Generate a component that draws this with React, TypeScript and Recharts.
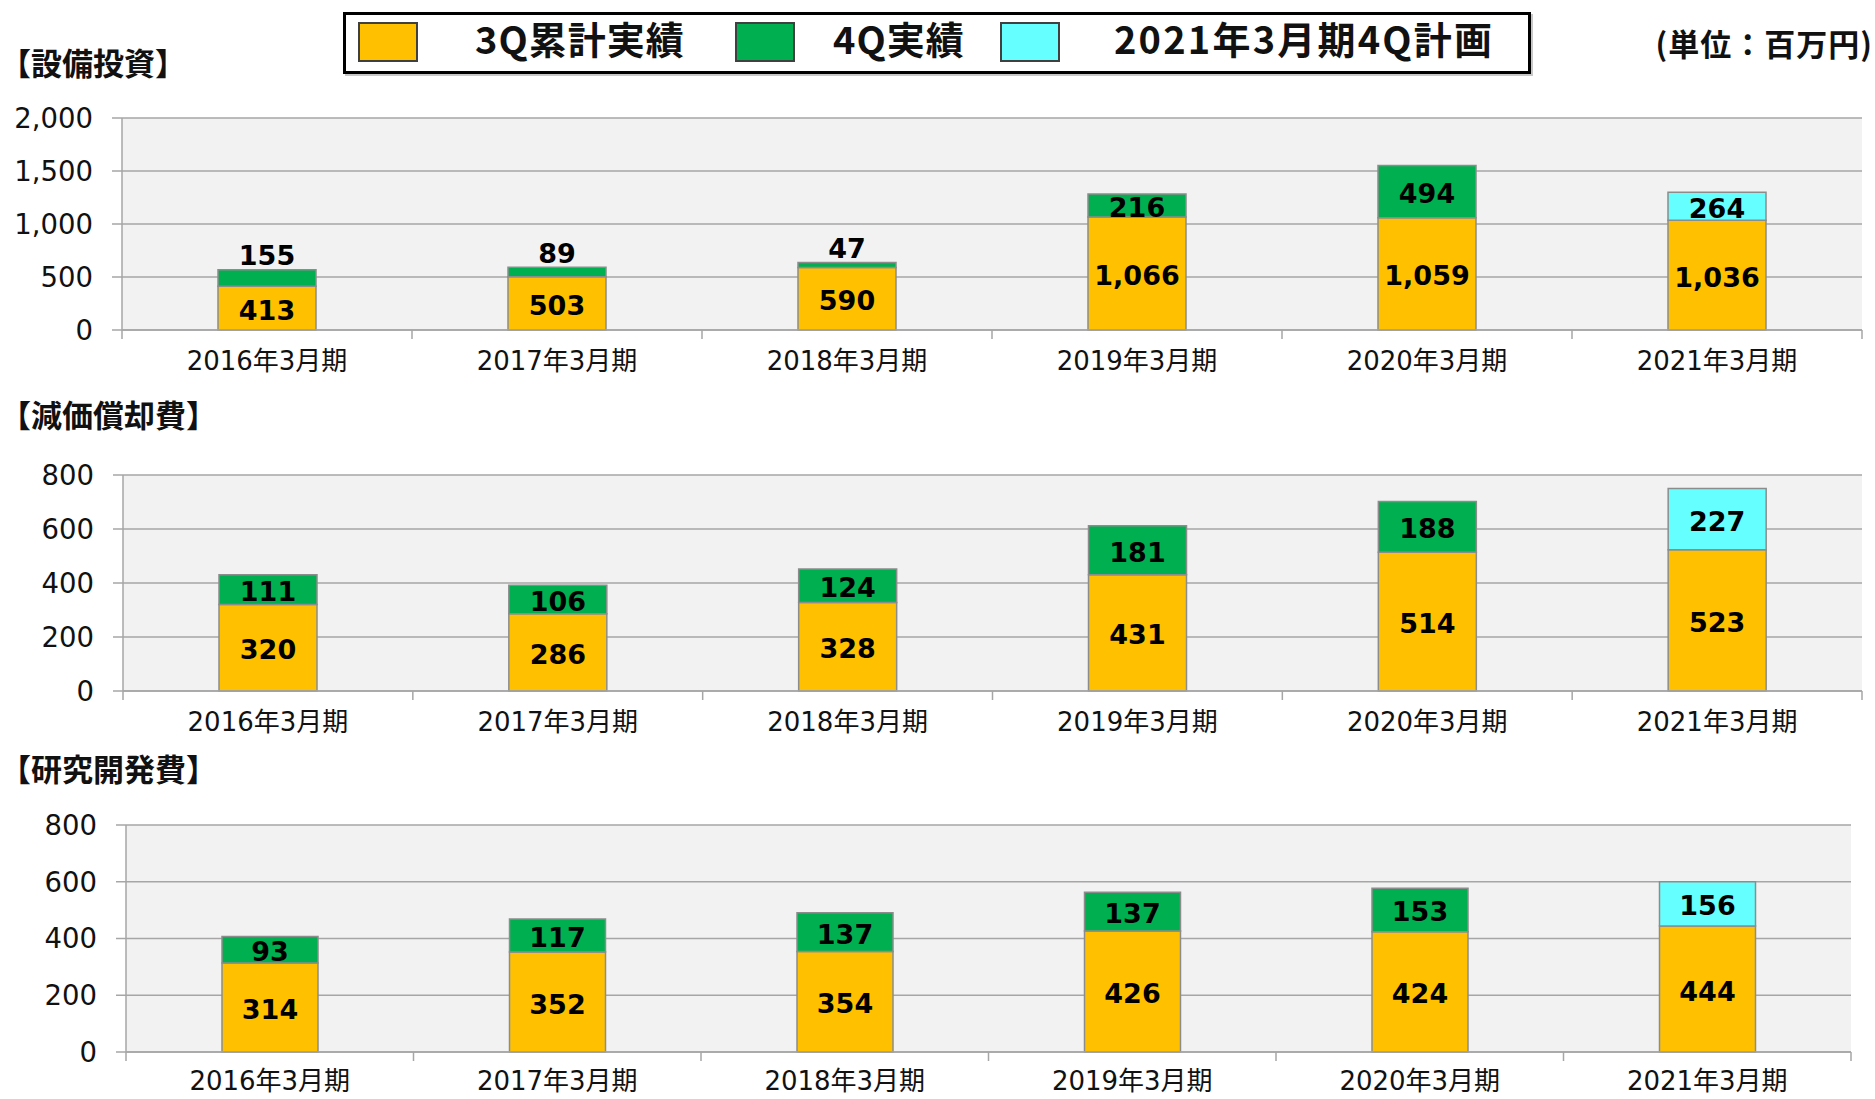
import { BarChart, Bar, XAxis, YAxis, CartesianGrid, LabelList } from "recharts";

const periods = [
  "2016年3月期",
  "2017年3月期",
  "2018年3月期",
  "2019年3月期",
  "2020年3月期",
  "2021年3月期",
];

// 設備投資
const capex3Q = [413, 503, 590, 1066, 1059, 1036];
const capex4Q = [155, 89, 47, 216, 494, null];
const capexPlan = [null, null, null, null, null, 264];
const capexTicks = [0, 500, 1000, 1500, 2000];

// 減価償却費
const dep3Q = [320, 286, 328, 431, 514, 523];
const dep4Q = [111, 106, 124, 181, 188, null];
const depPlan = [null, null, null, null, null, 227];
const depTicks = [0, 200, 400, 600, 800];

// 研究開発費
const rd3Q = [314, 352, 354, 426, 424, 444];
const rd4Q = [93, 117, 137, 137, 153, null];
const rdPlan = [null, null, null, null, null, 156];
const rdTicks = [0, 200, 400, 600, 800];

const legendItems = [
  { name: "3Q累計実績", color: "#FFC000", swatchX: 358, textX: 475, spacing: 1 },
  { name: "4Q実績", color: "#00B050", swatchX: 735, textX: 833, spacing: 1 },
  { name: "2021年3月期4Q計画", color: "#66FFFF", swatchX: 1000, textX: 1114, spacing: 2.2 },
];

const GRID = "#a6a6a6";
const BAR_STROKE = "#8c8c8c";
const NUM_FONT = "'DejaVu Sans', Verdana, 'Noto Sans CJK JP', sans-serif";
const JP_FONT = "'Noto Sans CJK JP', sans-serif";
const PAGE_W = 1875;

const fmt = (v: number) => v.toLocaleString("en-US");

function ValueLabel(props: any) {
  const { x, y, width, height, value } = props;
  if (value == null || value === 0) return null;
  const h = Math.abs(height);
  const above = h < 20;
  const cx = x + width / 2;
  const cy = above ? y - 14 : y + height / 2 + 2;
  return (
    <text
      x={cx}
      y={cy}
      textAnchor="middle"
      dominantBaseline="central"
      fontFamily={NUM_FONT}
      fontWeight="bold"
      fontSize={27}
      fill="#000"
    >
      {fmt(value)}
    </text>
  );
}

function PeriodTick(props: any) {
  const { x, y, payload, index, half, labelDy } = props;
  return (
    <g>
      {index === 0 && (
        <line x1={x - half} y1={y} x2={x - half} y2={y + 9} stroke={GRID} strokeWidth={1.5} />
      )}
      <line x1={x + half} y1={y} x2={x + half} y2={y + 9} stroke={GRID} strokeWidth={1.5} />
      <text
        x={x}
        y={y + labelDy}
        textAnchor="middle"
        dominantBaseline="central"
        fontFamily={NUM_FONT}
        fontSize={26}
        fill="#111"
      >
        {payload.value}
      </text>
    </g>
  );
}

interface PanelProps {
  title: string;
  titleY: number;
  left: number;
  right: number;
  top: number;
  bottom: number;
  max: number;
  ticks: number[];
  barSize: number;
  labelDy: number;
  q3: (number | null)[];
  q4: (number | null)[];
  plan: (number | null)[];
}

function Panel(p: PanelProps) {
  const data = periods.map((period, i) => ({
    period,
    q3: p.q3[i],
    q4: p.q4[i],
    plan: p.plan[i],
  }));
  const mt = 24;
  const xh = 46;
  const height = p.bottom - p.top + mt + xh;
  const half = (p.right - p.left) / periods.length / 2;
  return (
    <>
      <div
        style={{
          position: "absolute",
          left: 0,
          top: p.titleY - 22,
          fontFamily: JP_FONT,
          fontWeight: 700,
          fontSize: 31,
          lineHeight: "44px",
          color: "#111",
          whiteSpace: "nowrap",
        }}
      >
        {p.title}
      </div>
      <div style={{ position: "absolute", left: 0, top: p.top - mt }}>
        <BarChart
          width={PAGE_W}
          height={height}
          data={data}
          margin={{ top: mt, right: PAGE_W - p.right, bottom: 0, left: 0 }}
          barSize={p.barSize}
        >
          <CartesianGrid vertical={false} fill="#f2f2f2" stroke={GRID} strokeWidth={1.5} />
          <XAxis
            dataKey="period"
            interval={0}
            height={xh}
            tickSize={0}
            tickLine={false}
            tickMargin={0}
            axisLine={{ stroke: GRID, strokeWidth: 1.5 }}
            tick={(tp: any) => <PeriodTick {...tp} half={half} labelDy={p.labelDy} />}
          />
          <YAxis
            width={p.left}
            domain={[0, p.max]}
            ticks={p.ticks}
            interval={0}
            tickSize={10}
            tickMargin={19}
            tickLine={{ stroke: GRID, strokeWidth: 1.5 }}
            axisLine={{ stroke: GRID, strokeWidth: 1.5 }}
            tickFormatter={fmt}
            tick={{ fontFamily: NUM_FONT, fontSize: 27.5, fill: "#111" }}
          />
          <Bar dataKey="q3" stackId="a" fill="#FFC000" stroke={BAR_STROKE} strokeWidth={1.5} isAnimationActive={false}>
            <LabelList dataKey="q3" content={ValueLabel} />
          </Bar>
          <Bar dataKey="q4" stackId="a" fill="#00B050" stroke={BAR_STROKE} strokeWidth={1.5} isAnimationActive={false}>
            <LabelList dataKey="q4" content={ValueLabel} />
          </Bar>
          <Bar dataKey="plan" stackId="a" fill="#66FFFF" stroke={BAR_STROKE} strokeWidth={1.5} isAnimationActive={false}>
            <LabelList dataKey="plan" content={ValueLabel} />
          </Bar>
        </BarChart>
      </div>
    </>
  );
}

function LegendBox() {
  return (
    <>
      <div
        style={{
          position: "absolute",
          left: 343,
          top: 12,
          width: 1188,
          height: 62,
          boxSizing: "border-box",
          border: "3px solid #000",
          background: "#fff",
          boxShadow: "2px 2px 0 #c8c8c8",
        }}
      />
      {legendItems.map((it) => (
        <div key={it.name}>
          <div
            style={{
              position: "absolute",
              left: it.swatchX,
              top: 22,
              width: 60,
              height: 40,
              boxSizing: "border-box",
              background: it.color,
              border: "2px solid #404040",
            }}
          />
          <div
            style={{
              position: "absolute",
              left: it.textX,
              top: 13,
              height: 50,
              lineHeight: "50px",
              fontFamily: JP_FONT,
              fontWeight: 700,
              fontSize: 38,
              letterSpacing: it.spacing,
              color: "#111",
              whiteSpace: "nowrap",
            }}
          >
            {it.name}
          </div>
        </div>
      ))}
    </>
  );
}

export default function App() {
  return (
    <div
      style={{
        position: "absolute",
        left: 0,
        top: 0,
        width: PAGE_W,
        height: 1099,
        background: "#fff",
        overflow: "hidden",
      }}
    >
      <LegendBox />
      <div
        style={{
          position: "absolute",
          right: 2,
          top: 21,
          lineHeight: "44px",
          fontFamily: JP_FONT,
          fontWeight: 700,
          fontSize: 31,
          letterSpacing: 1,
          color: "#111",
          whiteSpace: "nowrap",
        }}
      >
        (単位：百万円)
      </div>
      <Panel
        title="【設備投資】"
        titleY={62}
        left={122}
        right={1862}
        top={118}
        bottom={330}
        max={2000}
        ticks={capexTicks}
        barSize={98}
        labelDy={31}
        q3={capex3Q}
        q4={capex4Q}
        plan={capexPlan}
      />
      <Panel
        title="【減価償却費】"
        titleY={414}
        left={123}
        right={1862}
        top={475}
        bottom={691}
        max={800}
        ticks={depTicks}
        barSize={98}
        labelDy={31}
        q3={dep3Q}
        q4={dep4Q}
        plan={depPlan}
      />
      <Panel
        title="【研究開発費】"
        titleY={768}
        left={126}
        right={1851}
        top={825}
        bottom={1052}
        max={800}
        ticks={rdTicks}
        barSize={96}
        labelDy={29}
        q3={rd3Q}
        q4={rd4Q}
        plan={rdPlan}
      />
    </div>
  );
}
